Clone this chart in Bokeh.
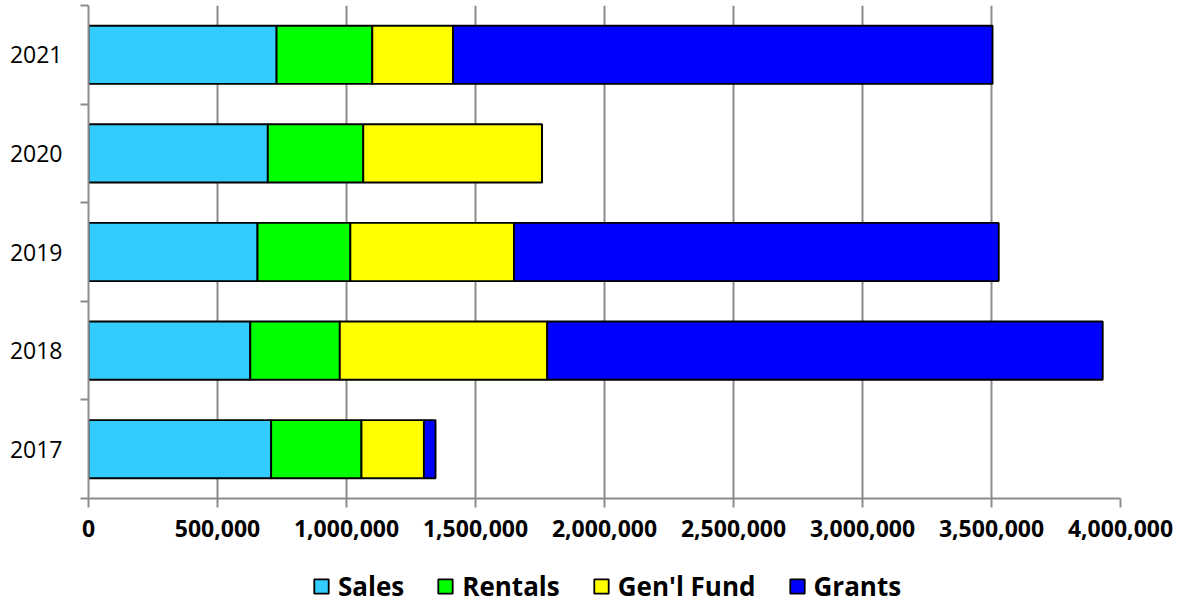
from bokeh.plotting import figure
from bokeh.layouts import column
from bokeh.models import (ColumnDataSource, Range1d, FixedTicker, NumeralTickFormatter,
                          Legend, LegendItem, CustomJSTickFormatter)
from bokeh.embed import file_html
from bokeh.resources import INLINE

years = ["2017", "2018", "2019", "2020", "2021"]
series = ["Sales", "Rentals", "Gen'l Fund", "Grants"]
sales = [708000, 627000, 655000, 695000, 729000]
rentals = [350000, 347000, 360000, 370000, 371000]
genl_fund = [242000, 804000, 634000, 693000, 313000]
grants = [45000, 2153000, 1879000, 0, 2091000]
colors = ["#33CCFF", "#00FF00", "#FFFF00", "#0000FF"]
x_ticks = [0, 500000, 1000000, 1500000, 2000000, 2500000, 3000000, 3500000, 4000000]

pos = [i + 0.5 for i in range(len(years))]
keys = ["sales", "rentals", "genl", "grants"]
src = ColumnDataSource(dict(y=pos, sales=sales, rentals=rentals, genl=genl_fund, grants=grants))

p = figure(width=1186, height=555, x_range=Range1d(0, 4000000), y_range=Range1d(0, len(years)),
           output_backend="svg", toolbar_location=None,
           min_border_left=88, min_border_right=66, min_border_top=5, min_border_bottom=57)
p.outline_line_color = None
p.background_fill_color = "white"
p.border_fill_color = "white"

renderers = p.hbar_stack(keys, y="y", height=0.59, color=colors, line_color="black",
                         line_width=1.9, source=src)

p.ygrid.visible = False
p.xgrid.grid_line_color = "#8c8c8c"
p.xgrid.grid_line_width = 2
p.xgrid.level = "underlay"

grey = "#8c8c8c"
xa = p.xaxis[0]
xa.ticker = FixedTicker(ticks=x_ticks)
xa.formatter = NumeralTickFormatter(format="0,0")
xa.axis_line_color = grey
xa.axis_line_width = 2
xa.major_tick_line_color = grey
xa.major_tick_line_width = 2
xa.major_tick_out = 9
xa.major_tick_in = 0
xa.minor_tick_line_color = None
xa.major_label_standoff = 12
xa.major_label_text_font = "Open Sans"
xa.major_label_text_font_size = "23px"
xa.major_label_text_font_style = "bold"
xa.major_label_text_color = "black"

ya = p.yaxis[0]
ya.ticker = FixedTicker(ticks=pos, minor_ticks=list(range(len(years) + 1)))
ya.formatter = CustomJSTickFormatter(args=dict(labels=years),
                                     code="return labels[Math.floor(tick)];")
ya.axis_line_color = grey
ya.axis_line_width = 2
ya.major_tick_out = 0
ya.major_tick_in = 0
ya.minor_tick_line_color = grey
ya.minor_tick_line_width = 2
ya.minor_tick_out = 8
ya.minor_tick_in = 0
ya.major_label_standoff = 18
ya.major_label_text_font = "Open Sans"
ya.major_label_text_font_size = "23px"
ya.major_label_text_color = "black"

# Legend strip below the chart (frames are aligned with the chart above)
p2 = figure(width=1186, height=52, x_range=Range1d(0, 1), y_range=Range1d(0, 1),
            output_backend="svg", toolbar_location=None,
            x_axis_location=None, y_axis_location=None,
            min_border_left=0, min_border_right=0, min_border_top=0, min_border_bottom=0)
p2.outline_line_color = None
p2.xgrid.visible = False
p2.ygrid.visible = False
p2.border_fill_color = "white"
# hidden helper row (NaN, never drawn) so the legend swatches get drawn
nan = float("nan")
leg_src = ColumnDataSource(dict(y=[nan], left=[nan], right=[nan]))
leg_rs = [p2.hbar(y="y", left="left", right="right", height=0.5, source=leg_src,
                  fill_color=c, line_color="black", line_width=1.8) for c in colors]

legend = Legend(items=[LegendItem(label=s, renderers=[r]) for s, r in zip(series, leg_rs)],
                orientation="horizontal", location=(224, 3),
                glyph_width=18, glyph_height=18, label_standoff=8, spacing=32,
                padding=0, margin=0, border_line_color=None, background_fill_alpha=0,
                label_text_font="Open Sans", label_text_font_size="26px",
                label_text_font_style="bold", label_text_color="black")
p2.add_layout(legend)

layout = column(p, p2, spacing=0)
open("out.html", "w").write(file_html(layout, INLINE))
